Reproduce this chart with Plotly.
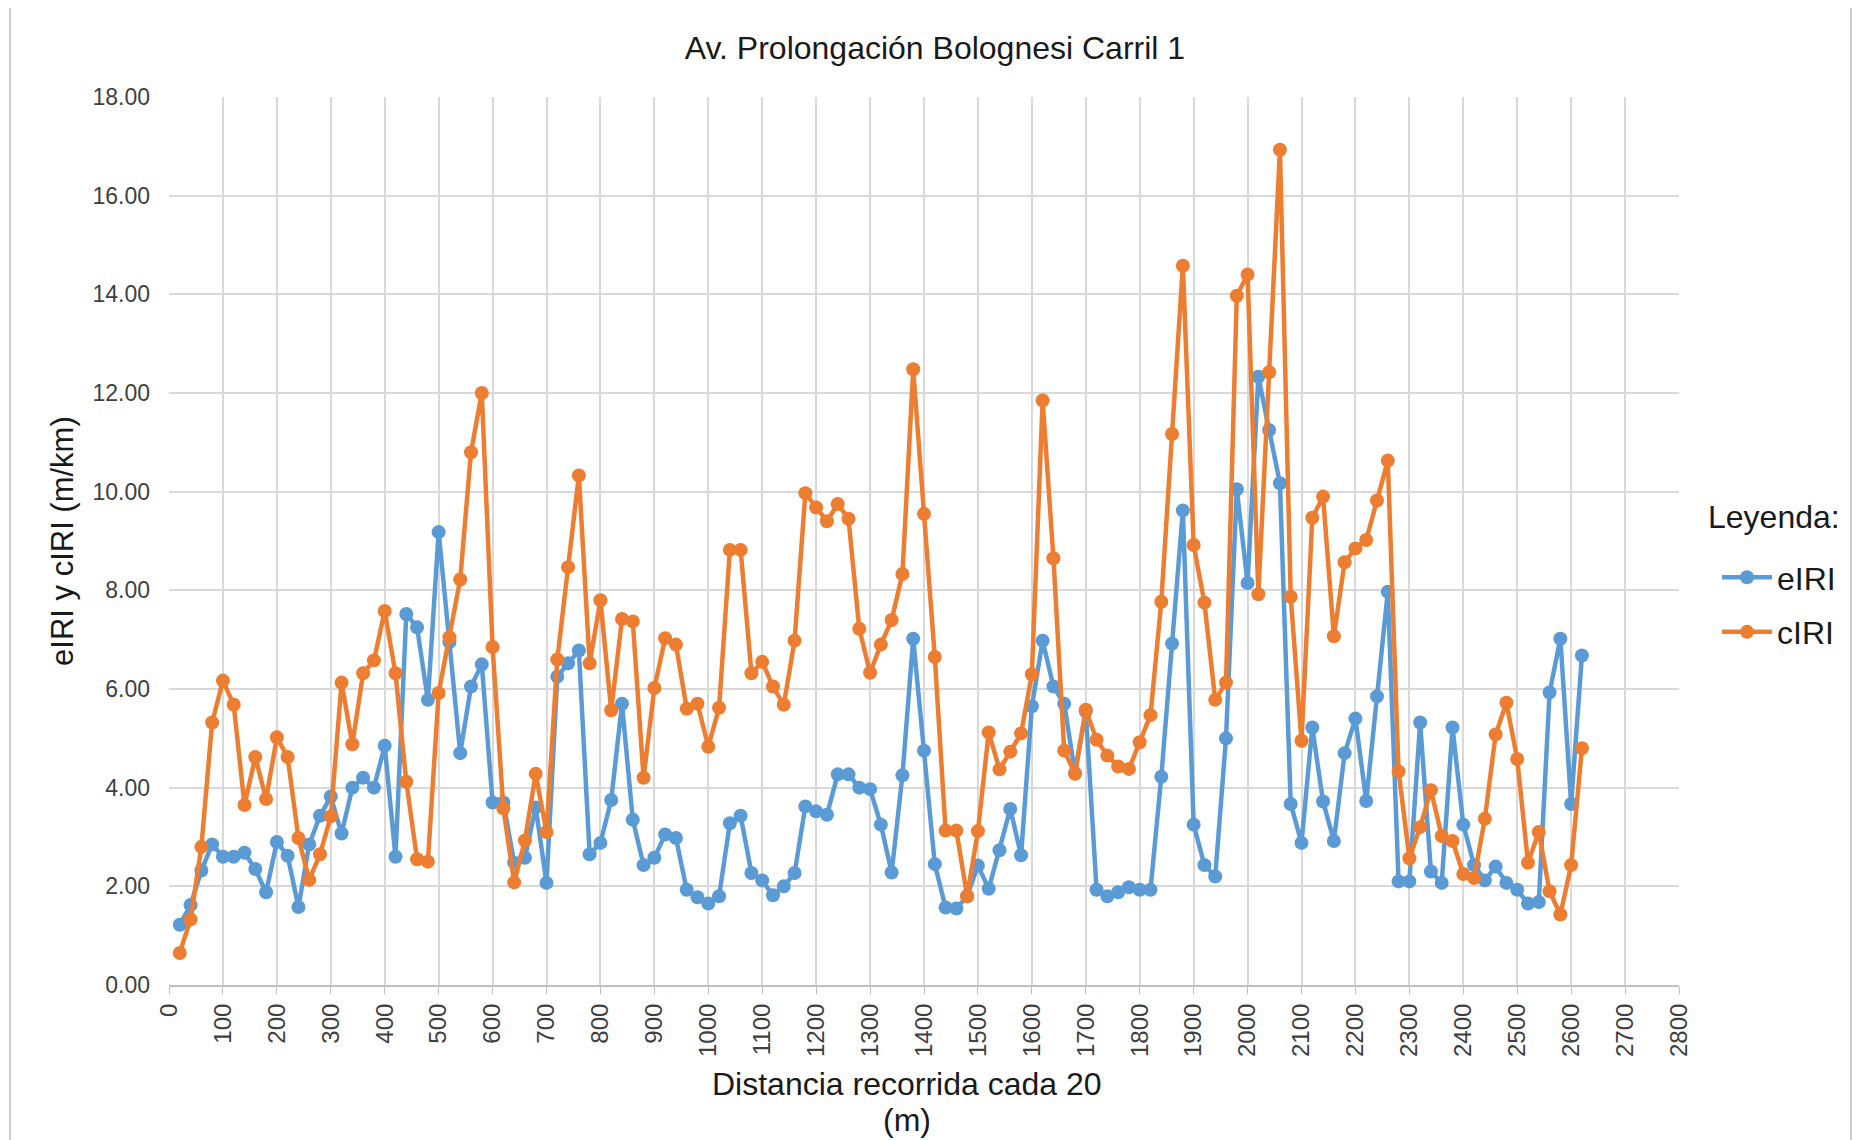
import plotly.graph_objects as go

distancia = list(range(20, 2640, 20))

eiri = [1.22, 1.62, 2.32, 2.85, 2.60, 2.60, 2.68, 2.35, 1.88, 2.90,
        2.62, 1.58, 2.85, 3.43, 3.82, 3.07, 4.00, 4.20, 4.00, 4.85,
        2.60, 7.52, 7.25, 5.78, 9.18, 6.95, 4.70, 6.05, 6.50, 3.70,
        3.70, 2.48, 2.58, 3.60, 2.07, 6.25, 6.52, 6.78, 2.65, 2.88,
        3.75, 5.70, 3.35, 2.43, 2.58, 3.05, 2.98, 1.93, 1.78, 1.65,
        1.80, 3.28, 3.43, 2.27, 2.12, 1.82, 2.00, 2.27, 3.62, 3.52,
        3.45, 4.27, 4.27, 4.00, 3.97, 3.25, 2.28, 4.25, 7.02, 4.75,
        2.45, 1.57, 1.55, 1.80, 2.42, 1.95, 2.73, 3.57, 2.63, 5.65,
        6.98, 6.05, 5.70, 4.30, 5.55, 1.93, 1.80, 1.88, 1.98, 1.93,
        1.93, 4.22, 6.92, 9.62, 3.25, 2.43, 2.20, 5.00, 10.05, 8.15,
        12.33, 11.25, 10.17, 3.67, 2.88, 5.22, 3.72, 2.92, 4.70, 5.40,
        3.73, 5.85, 7.97, 2.10, 2.10, 5.32, 2.30, 2.07, 5.22, 3.25,
        2.43, 2.12, 2.40, 2.07, 1.93, 1.65, 1.68, 5.93, 7.02, 3.67,
        6.68]

ciri = [0.65, 1.33, 2.80, 5.32, 6.17, 5.68, 3.65, 4.62, 3.77, 5.02,
        4.62, 2.98, 2.13, 2.65, 3.42, 6.13, 4.88, 6.32, 6.58, 7.58,
        6.32, 4.12, 2.55, 2.50, 5.92, 7.05, 8.22, 10.80, 12.00, 6.85,
        3.58, 2.08, 2.93, 4.28, 3.10, 6.60, 8.47, 10.33, 6.52, 7.80,
        5.57, 7.42, 7.37, 4.20, 6.02, 7.03, 6.90, 5.60, 5.70, 4.83,
        5.62, 8.82, 8.82, 6.32, 6.55, 6.05, 5.68, 6.98, 9.97, 9.68,
        9.40, 9.75, 9.45, 7.22, 6.33, 6.90, 7.40, 8.33, 12.48, 9.55,
        6.65, 3.13, 3.13, 1.80, 3.12, 5.12, 4.37, 4.73, 5.10, 6.30,
        11.85, 8.65, 4.75, 4.28, 5.58, 4.97, 4.65, 4.43, 4.38, 4.92,
        5.47, 7.77, 11.17, 14.58, 8.92, 7.75, 5.78, 6.13, 13.97, 14.40,
        7.92, 12.42, 16.93, 7.87, 4.95, 9.47, 9.90, 7.07, 8.57, 8.85,
        9.02, 9.82, 10.63, 4.33, 2.57, 3.20, 3.95, 3.02, 2.92, 2.25,
        2.17, 3.37, 5.08, 5.72, 4.58, 2.48, 3.10, 1.90, 1.43, 2.43,
        4.80]

font_family = "Liberation Sans, Arial, sans-serif"
text_dark = "#1a1a1a"

fig = go.Figure()
fig.add_trace(go.Scatter(x=distancia, y=eiri, name="eIRI", mode="lines+markers",
                         legendgroup="e",
                         line=dict(color="#5B9BD5", width=4.5),
                         marker=dict(color="#5B9BD5", size=14)))
fig.add_trace(go.Scatter(x=distancia, y=ciri, name="cIRI", mode="lines+markers",
                         legendgroup="c",
                         line=dict(color="#ED7D31", width=4.5),
                         marker=dict(color="#ED7D31", size=14)))

fig.update_layout(
    width=1865, height=1140,
    margin=dict(l=161, r=194, t=89, b=163),
    paper_bgcolor="white", plot_bgcolor="white",
    font=dict(family=font_family, color="#404040"),
    title=dict(text="Av. Prolongación Bolognesi Carril 1", x=0.497, xanchor="center",
               y=0.965, yanchor="middle", font=dict(size=32, color=text_dark)),
    legend=dict(font=dict(size=32, color=text_dark),
                x=1.0252, xanchor="left", y=0.428, yanchor="middle",
                traceorder="grouped", tracegroupgap=10, itemwidth=50,
                bgcolor="rgba(0,0,0,0)"),
    annotations=[
        dict(text="Leyenda:", xref="paper", yref="paper", x=1.0179, y=0.527,
             xanchor="left", yanchor="middle", showarrow=False,
             font=dict(size=32, color=text_dark)),
        dict(text="eIRI y cIRI (m/km)", xref="paper", yref="paper", x=-0.0709, y=0.5,
             xanchor="center", yanchor="middle", textangle=-90, showarrow=False,
             font=dict(size=31, color=text_dark)),
        dict(text="Distancia recorrida cada 20", xref="paper", yref="paper",
             x=0.4887, y=-0.1115, xanchor="center", yanchor="middle", showarrow=False,
             font=dict(size=32, color=text_dark)),
        dict(text="(m)", xref="paper", yref="paper",
             x=0.4887, y=-0.152, xanchor="center", yanchor="middle", showarrow=False,
             font=dict(size=32, color=text_dark)),
    ],
    shapes=[dict(type="rect", xref="paper", yref="paper",
                 x0=-0.1053, x1=1.1139, y0=-0.25, y1=1.1025,
                 line=dict(color="#BFBFBF", width=1.5), layer="below")],
)

fig.update_xaxes(
    range=[0, 2800], dtick=100, tick0=0, tickangle=-90,
    showgrid=True, gridcolor="#D9D9D9", gridwidth=1.5,
    showline=True, linecolor="#BFBFBF", linewidth=2,
    ticks="outside", ticklen=7, tickcolor="#BFBFBF",
    tickfont=dict(size=24, color="#404040"),
    zeroline=False,
)
fig.update_yaxes(
    range=[0, 18], dtick=2, tickformat=".2f",
    showgrid=True, gridcolor="#D9D9D9", gridwidth=1.5,
    showline=False, zeroline=False,
    tickfont=dict(size=23, color="#404040"), ticks="", ticklabelstandoff=18,
)

fig.write_html("out.html")
